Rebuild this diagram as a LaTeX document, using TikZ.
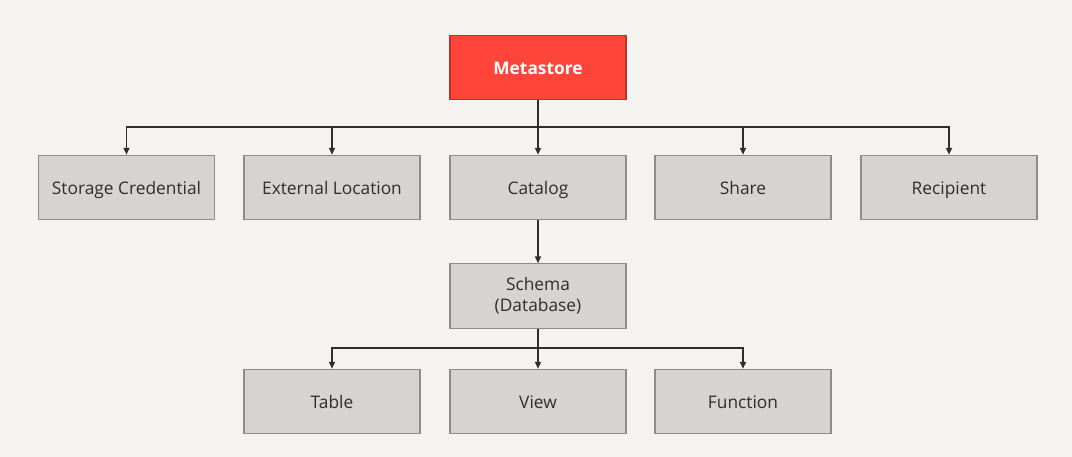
\documentclass[tikz,border=0pt]{standalone}
\usepackage{fontspec}
\setmainfont{Open Sans}
\usetikzlibrary{arrows.meta, positioning}
\definecolor{ucbg}{HTML}{F4F3F0}
\definecolor{ucred}{HTML}{FF4539}
\definecolor{ucredline}{HTML}{B8342A}
\definecolor{ucbox}{HTML}{D6D3D1}
\definecolor{ucboxline}{HTML}{8E8B88}
\definecolor{ucink}{HTML}{2E2E2E}

\begin{document}
\begin{tikzpicture}[x=0.75pt, y=-0.75pt,
    entity/.style={draw=ucboxline, fill=ucbox, line width=0.8pt,
        minimum width=132pt, minimum height=48.5pt, inner sep=0pt,
        text height=12pt, text depth=2pt,
        align=center, text=ucink, font=\fontsize{13}{16}\selectfont},
    rootbox/.style={entity, fill=ucred, draw=ucredline, text=white,
        font=\fontsize{13}{16}\selectfont\bfseries},
    flow/.style={draw=ucink, line width=1pt,
        -{Triangle[length=5pt, width=4.5pt]}}]
    % background and page size
    \fill[ucbg] (0,0) rectangle (1072,457);

    % Metastore
    \node[rootbox] (meta) at (538,67.5) {Metastore};

    % securable objects under the metastore
    \node[entity] (cred) at (126.5,187.5) {Storage Credential};
    \node[entity] (extloc) at (332,187.5) {External Location};
    \node[entity] (catalog) at (538,187.5) {Catalog};
    \node[entity] (share) at (743,187.5) {Share};
    \node[entity] (recip) at (949,187.5) {Recipient};

    % schema
    \node[entity, text height=, text depth=] (schema) at (538,296) {Schema\\(Database)};

    % objects in a schema
    \node[entity] (table) at (332,401.5) {Table};
    \node[entity] (view) at (538,401.5) {View};
    \node[entity] (func) at (743,401.5) {Function};

    % connectors
    \coordinate (hubtop) at (538,127);
    \coordinate (hubmid) at (538,348);

    \draw[flow] (meta) -- (catalog);
    \foreach \n in {cred, extloc, share, recip}
        \draw[flow] (hubtop) -| (\n.north);

    \draw[flow] (catalog) -- (schema);

    \draw[flow] (schema) -- (view);
    \foreach \n in {table, func}
        \draw[flow] (hubmid) -| (\n.north);
\end{tikzpicture}
\end{document}
